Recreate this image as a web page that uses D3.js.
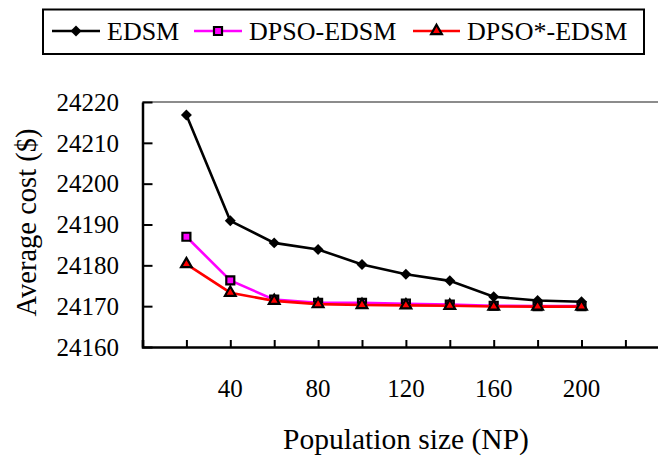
<!DOCTYPE html>
<html>
<head>
<meta charset="utf-8">
<script src="https://cdn.jsdelivr.net/npm/d3@7"></script>
<style>
  body { margin: 0; background: #fff; }
  svg { display: block; }
</style>
</head>
<body>
<div id="chart"></div>
<script>
// population sizes (NP)
const popSizes = [20, 40, 60, 80, 100, 120, 140, 160, 180, 200]
// average cost per method
const edsm = [24216.8, 24190.9, 24185.5, 24183.9, 24180.2, 24177.8, 24176.2, 24172.3, 24171.4, 24171.1]
const dpsoEdsm = [24187.0, 24176.3, 24171.6, 24170.8, 24170.8, 24170.6, 24170.4, 24170.1, 24170.0, 24170.0]
const dpsoStarEdsm = [24180.3, 24173.3, 24171.3, 24170.5, 24170.3, 24170.2, 24170.1, 24169.9, 24169.9, 24169.9]
const yTicks = [24160, 24170, 24180, 24190, 24200, 24210, 24220]
const xTickLabels = [40, 80, 120, 160, 200]

const seriesNames = ['EDSM', 'DPSO-EDSM', 'DPSO*-EDSM']
const seriesValues = [edsm, dpsoEdsm, dpsoStarEdsm]

const width = 658, height = 458
const serif = "Liberation Serif, Tinos, Nimbus Roman, FreeSerif, DejaVu Serif, serif"
const svg = d3.select('#chart').append('svg')
    .attr('width', width).attr('height', height)
    .style('font-family', serif)

// plot area
const plotLeft = 142.5, plotTop = 102, plotBottom = 347
const x = d3.scaleLinear().domain([0, 240]).range([plotLeft, plotLeft + 12 * 43.9])
const y = d3.scaleLinear().domain([24160, 24220]).range([plotBottom, plotTop])

const styles = [
    { color: '#000000', marker: 'diamond' },
    { color: '#ff00ff', marker: 'square' },
    { color: '#ff0000', marker: 'triangle' }
]

// gray top border
svg.append('line')
    .attr('x1', plotLeft).attr('x2', width)
    .attr('y1', plotTop).attr('y2', plotTop)
    .attr('stroke', '#8c8c8c').attr('stroke-width', 2)

// x axis, ticks pointing inward
const xAxis = d3.axisBottom(x)
    .tickValues(d3.range(0, 241, 20))
    .tickSize(-7)
    .tickFormat('')
const xAxisG = svg.append('g')
    .attr('transform', `translate(0, ${plotBottom})`)
    .call(xAxis)
xAxisG.select('.domain').attr('stroke-width', 2.5)
xAxisG.selectAll('.tick line').attr('stroke-width', 2)

svg.append('g').selectAll('text')
    .data(xTickLabels)
    .enter().append('text')
    .attr('x', d => x(d))
    .attr('y', 397)
    .attr('text-anchor', 'middle')
    .attr('font-size', 25)
    .style('font-family', serif)
    .text(d => d)

// y axis
const yAxis = d3.axisLeft(y)
    .tickValues(yTicks)
    .tickSize(-10)
    .tickSizeOuter(0)
    .tickFormat('')
const yAxisG = svg.append('g')
    .attr('transform', `translate(${plotLeft}, 0)`)
    .call(yAxis)
yAxisG.select('.domain').attr('stroke-width', 2.5)
yAxisG.selectAll('.tick line').attr('stroke-width', 2)

svg.append('g').selectAll('text')
    .data(yTicks)
    .enter().append('text')
    .attr('x', 119)
    .attr('y', d => y(d))
    .attr('dy', '0.35em')
    .attr('text-anchor', 'end')
    .attr('font-size', 25)
    .style('font-family', serif)
    .text(d => d)

// axis titles
svg.append('text')
    .attr('transform', `translate(36, ${(plotTop + plotBottom) / 2 - 2}) rotate(-90)`)
    .attr('text-anchor', 'middle')
    .attr('font-size', 28.5)
    .style('font-family', serif)
    .text('Average cost ($)')

svg.append('text')
    .attr('x', 406)
    .attr('y', 449)
    .attr('text-anchor', 'middle')
    .attr('font-size', 29.5)
    .style('font-family', serif)
    .text('Population size (NP)')

// marker shapes
const symbolFor = m => {
    if (m === 'diamond') return d3.symbol().type(d3.symbolSquare).size(60)()
    if (m === 'square') return d3.symbol().type(d3.symbolSquare).size(64)()
    return d3.symbol().type(d3.symbolTriangle).size(50)()
}
const drawMarker = (g, m, color) => {
    const p = g.append('path').attr('d', symbolFor(m))
    if (m === 'diamond') {
        p.attr('transform', 'rotate(45)').attr('fill', '#000')
    } else {
        p.attr('fill', color).attr('stroke', '#000').attr('stroke-width', 2.2)
    }
}

const line = d3.line()
    .x((d, i) => x(popSizes[i]))
    .y(d => y(d))

seriesValues.forEach((vals, si) => {
    const st = styles[si]
    svg.append('path')
        .datum(vals)
        .attr('fill', 'none')
        .attr('stroke', st.color)
        .attr('stroke-width', 2.6)
        .attr('d', line)
    vals.forEach((v, i) => {
        const g = svg.append('g')
            .attr('transform', `translate(${x(popSizes[i])}, ${y(v)})`)
        drawMarker(g, st.marker, st.color)
    })
})

// legend
svg.append('rect')
    .attr('x', 43).attr('y', 9.5)
    .attr('width', 601).attr('height', 44.5)
    .attr('fill', 'none').attr('stroke', '#000').attr('stroke-width', 2)

const legendItems = [
    { x1: 52, x2: 100, tx: 107 },
    { x1: 194, x2: 242, tx: 249 },
    { x1: 413, x2: 460, tx: 467 }
]
legendItems.forEach((it, i) => {
    const st = styles[i]
    const ly = 31
    svg.append('line')
        .attr('x1', it.x1).attr('x2', it.x2)
        .attr('y1', ly).attr('y2', ly)
        .attr('stroke', st.color).attr('stroke-width', 2.6)
    const g = svg.append('g').attr('transform', `translate(${(it.x1 + it.x2) / 2}, ${ly})`)
    drawMarker(g, st.marker, st.color)
    svg.append('text')
        .attr('x', it.tx).attr('y', ly)
        .attr('dy', '0.35em')
        .attr('font-size', 26)
        .style('font-family', serif)
        .text(seriesNames[i])
})
</script>
</body>
</html>
